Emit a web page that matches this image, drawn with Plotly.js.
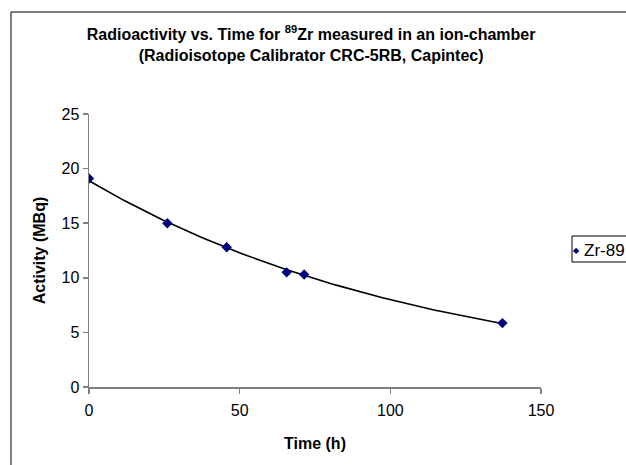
<!DOCTYPE html>
<html>
<head>
<meta charset="utf-8">
<script src="https://cdn.plot.ly/plotly-3.0.1.min.js"></script>
<style>html,body{margin:0;padding:0;background:#fff;}#chart{width:626px;height:465px;}</style>
</head>
<body>
<div id="chart"></div>
<script>
// Data
var seriesName = 'Zr-89';
var timeH = [0, 26, 45.7, 65.6, 71.4, 137.2];
var activityMBq = [19.1, 15.0, 12.8, 10.5, 10.3, 5.85];
var xTicks = [0, 50, 100, 150];
var yTicks = [0, 5, 10, 15, 20, 25];

// Exponential trendline (least squares on ln(y)), as Excel does
function expFit(xs, ys) {
  var n = xs.length, mx = 0, ml = 0;
  var ls = ys.map(function (v) { return Math.log(v); });
  for (var i = 0; i < n; i++) { mx += xs[i]; ml += ls[i]; }
  mx /= n; ml /= n;
  var sxy = 0, sxx = 0;
  for (var j = 0; j < n; j++) { sxy += (xs[j] - mx) * (ls[j] - ml); sxx += (xs[j] - mx) * (xs[j] - mx); }
  var b = sxy / sxx, a = Math.exp(ml - b * mx);
  return function (x) { return a * Math.exp(b * x); };
}
var f = expFit(timeH, activityMBq);
var fitX = [], fitY = [];
var xmin = Math.min.apply(null, timeH), xmax = Math.max.apply(null, timeH);
for (var k = 0; k <= 100; k++) {
  var xv = xmin + (xmax - xmin) * k / 100;
  fitX.push(xv); fitY.push(f(xv));
}

var FONT = 'Liberation Sans, Arial, sans-serif';

var traces = [
  { x: fitX, y: fitY, mode: 'lines', line: { color: '#000000', width: 1.6 }, showlegend: false, hoverinfo: 'skip' },
  { x: timeH, y: activityMBq, mode: 'markers', name: seriesName,
    marker: { symbol: 'diamond', size: 8, color: '#000080' }, showlegend: false }
];

// plot area in pixels: x 89..541, y 114..387
var L = 89, R = 541, T = 114, B = 387, W = R - L, H = B - T;
function px(x) { return (x - L) / W; }
function py(y) { return (B - y) / H; }

var layout = {
  width: 626, height: 465,
  margin: { l: L, r: 626 - R, t: T, b: 465 - B },
  paper_bgcolor: '#ffffff', plot_bgcolor: '#ffffff',
  font: { family: FONT, color: '#000000', size: 16 },
  title: {
    text: '<b>Radioactivity vs. Time for <sup>89</sup>Zr measured in an ion-chamber<br>(Radioisotope Calibrator CRC-5RB, Capintec)</b>',
    font: { family: FONT, size: 16, color: '#000000' },
    xref: 'container', x: 0.497, xanchor: 'center',
    yref: 'container', y: 1 - 40 / 465, yanchor: 'top'
  },
  xaxis: {
    range: [0, 150], tickvals: xTicks, ticktext: xTicks.map(String),
    showgrid: false, zeroline: false, showline: true, linecolor: '#7f7f7f', linewidth: 1.5,
    ticks: 'outside', ticklen: 5, tickcolor: '#7f7f7f', tickwidth: 1.5,
    ticklabelstandoff: 3,
    tickfont: { family: FONT, size: 16, color: '#000000' },
    title: { text: '<b>Time (h)</b>', font: { family: FONT, size: 16, color: '#000000' }, standoff: 20 }
  },
  yaxis: {
    range: [0, 25], tickvals: yTicks, ticktext: yTicks.map(String),
    showgrid: false, zeroline: false, showline: true, linecolor: '#7f7f7f', linewidth: 1.5,
    ticks: 'outside', ticklen: 5, tickcolor: '#7f7f7f', tickwidth: 1.5,
    tickfont: { family: FONT, size: 16, color: '#000000' },
    title: { text: '<b>Activity (MBq)</b>', font: { family: FONT, size: 16, color: '#000000' }, standoff: 12 }
  },
  showlegend: false,
  shapes: [
    { type: 'rect', xref: 'paper', yref: 'paper', x0: px(11), x1: px(640), y0: py(480), y1: py(12),
      line: { color: '#000000', width: 1 }, fillcolor: 'rgba(0,0,0,0)', layer: 'below' },
    { type: 'rect', xref: 'paper', yref: 'paper', x0: px(572), x1: px(640), y0: py(262), y1: py(236),
      line: { color: '#000000', width: 1 }, fillcolor: '#ffffff' }
  ],
  annotations: [
    { xref: 'paper', yref: 'paper', x: px(576), y: py(250), xanchor: 'center', yanchor: 'middle',
      text: '◆', showarrow: false, font: { family: 'DejaVu Sans', size: 8, color: '#000080' } },
    { xref: 'paper', yref: 'paper', x: px(582), y: py(250), xanchor: 'left', yanchor: 'middle',
      text: seriesName, showarrow: false, font: { family: FONT, size: 17, color: '#000000' } }
  ]
};

Plotly.newPlot('chart', traces, layout, { displayModeBar: false, staticPlot: true });
</script>
</body>
</html>
